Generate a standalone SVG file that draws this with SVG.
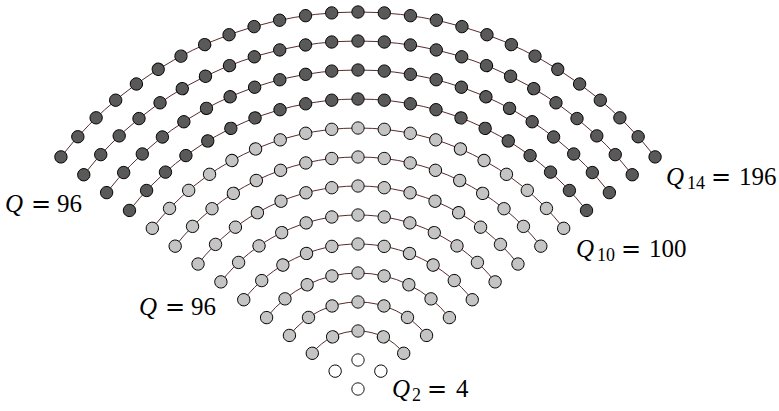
<svg xmlns="http://www.w3.org/2000/svg" xmlns:xlink="http://www.w3.org/1999/xlink" width="779" height="411" viewBox="0 0 779 411">
<style>
.arc{fill:none;stroke:#5b2b2b;stroke-width:1}
.lbl{font-family:"Liberation Serif","DejaVu Serif",serif;font-size:25px;fill:#000}
.q{font-style:italic}
.sub{font-size:18px}
.eq{font-family:"DejaVu Serif","Liberation Serif",serif;font-size:24px}
</style>
<defs>
<circle id="w" cx="358" cy="0" r="6.2" fill="#ffffff" stroke="#000" stroke-width="0.9"/>
<circle id="g" cx="358" cy="0" r="6.2" fill="#c4c4c4" stroke="#000" stroke-width="0.9"/>
<circle id="k" cx="358" cy="0" r="6.2" fill="#595959" stroke="#000" stroke-width="0.9"/>
</defs>
<rect width="779" height="411" fill="#fff"/>
<g id="connectors">
<path class="arc" d="M312.30 353.29 A58 58 0 0 1 403.70 353.29"/>
<path class="arc" d="M289.44 335.43 A87 87 0 0 1 426.56 335.43"/>
<path class="arc" d="M266.59 317.58 A116 116 0 0 1 449.41 317.58"/>
<path class="arc" d="M243.74 299.72 A145 145 0 0 1 472.26 299.72"/>
<path class="arc" d="M220.89 281.87 A174 174 0 0 1 495.11 281.87"/>
<path class="arc" d="M198.04 264.01 A203 203 0 0 1 517.96 264.01"/>
<path class="arc" d="M175.18 246.16 A232 232 0 0 1 540.82 246.16"/>
<path class="arc" d="M152.33 228.30 A261 261 0 0 1 563.67 228.30"/>
<path class="arc" d="M129.48 210.45 A290 290 0 0 1 586.52 210.45"/>
<path class="arc" d="M106.63 192.59 A319 319 0 0 1 609.37 192.59"/>
<path class="arc" d="M83.78 174.74 A348 348 0 0 1 632.22 174.74"/>
<path class="arc" d="M60.92 156.88 A377 377 0 0 1 655.08 156.88"/>
</g>
<g id="ring1">
<g id="n1-1"><use href="#w" y="389"/></g>
</g>
<g id="ring2">
<g id="n2-1" transform="rotate(-52 358 389)"><use href="#w" y="360"/></g>
<g id="n2-2"><use href="#w" y="360"/></g>
<g id="n2-3" transform="rotate(52 358 389)"><use href="#w" y="360"/></g>
</g>
<g id="ring3">
<g id="n3-1" transform="rotate(-52 358 389)"><use href="#g" y="331"/></g>
<g id="n3-2" transform="rotate(-26 358 389)"><use href="#g" y="331"/></g>
<g id="n3-3"><use href="#g" y="331"/></g>
<g id="n3-4" transform="rotate(26 358 389)"><use href="#g" y="331"/></g>
<g id="n3-5" transform="rotate(52 358 389)"><use href="#g" y="331"/></g>
</g>
<g id="ring4">
<g id="n4-1" transform="rotate(-52 358 389)"><use href="#g" y="302"/></g>
<g id="n4-2" transform="rotate(-34.667 358 389)"><use href="#g" y="302"/></g>
<g id="n4-3" transform="rotate(-17.333 358 389)"><use href="#g" y="302"/></g>
<g id="n4-4"><use href="#g" y="302"/></g>
<g id="n4-5" transform="rotate(17.333 358 389)"><use href="#g" y="302"/></g>
<g id="n4-6" transform="rotate(34.667 358 389)"><use href="#g" y="302"/></g>
<g id="n4-7" transform="rotate(52 358 389)"><use href="#g" y="302"/></g>
</g>
<g id="ring5">
<g id="n5-1" transform="rotate(-52 358 389)"><use href="#g" y="273"/></g>
<g id="n5-2" transform="rotate(-39 358 389)"><use href="#g" y="273"/></g>
<g id="n5-3" transform="rotate(-26 358 389)"><use href="#g" y="273"/></g>
<g id="n5-4" transform="rotate(-13 358 389)"><use href="#g" y="273"/></g>
<g id="n5-5"><use href="#g" y="273"/></g>
<g id="n5-6" transform="rotate(13 358 389)"><use href="#g" y="273"/></g>
<g id="n5-7" transform="rotate(26 358 389)"><use href="#g" y="273"/></g>
<g id="n5-8" transform="rotate(39 358 389)"><use href="#g" y="273"/></g>
<g id="n5-9" transform="rotate(52 358 389)"><use href="#g" y="273"/></g>
</g>
<g id="ring6">
<g id="n6-1" transform="rotate(-52 358 389)"><use href="#g" y="244"/></g>
<g id="n6-2" transform="rotate(-41.6 358 389)"><use href="#g" y="244"/></g>
<g id="n6-3" transform="rotate(-31.2 358 389)"><use href="#g" y="244"/></g>
<g id="n6-4" transform="rotate(-20.8 358 389)"><use href="#g" y="244"/></g>
<g id="n6-5" transform="rotate(-10.4 358 389)"><use href="#g" y="244"/></g>
<g id="n6-6"><use href="#g" y="244"/></g>
<g id="n6-7" transform="rotate(10.4 358 389)"><use href="#g" y="244"/></g>
<g id="n6-8" transform="rotate(20.8 358 389)"><use href="#g" y="244"/></g>
<g id="n6-9" transform="rotate(31.2 358 389)"><use href="#g" y="244"/></g>
<g id="n6-10" transform="rotate(41.6 358 389)"><use href="#g" y="244"/></g>
<g id="n6-11" transform="rotate(52 358 389)"><use href="#g" y="244"/></g>
</g>
<g id="ring7">
<g id="n7-1" transform="rotate(-52 358 389)"><use href="#g" y="215"/></g>
<g id="n7-2" transform="rotate(-43.333 358 389)"><use href="#g" y="215"/></g>
<g id="n7-3" transform="rotate(-34.667 358 389)"><use href="#g" y="215"/></g>
<g id="n7-4" transform="rotate(-26 358 389)"><use href="#g" y="215"/></g>
<g id="n7-5" transform="rotate(-17.333 358 389)"><use href="#g" y="215"/></g>
<g id="n7-6" transform="rotate(-8.667 358 389)"><use href="#g" y="215"/></g>
<g id="n7-7"><use href="#g" y="215"/></g>
<g id="n7-8" transform="rotate(8.667 358 389)"><use href="#g" y="215"/></g>
<g id="n7-9" transform="rotate(17.333 358 389)"><use href="#g" y="215"/></g>
<g id="n7-10" transform="rotate(26 358 389)"><use href="#g" y="215"/></g>
<g id="n7-11" transform="rotate(34.667 358 389)"><use href="#g" y="215"/></g>
<g id="n7-12" transform="rotate(43.333 358 389)"><use href="#g" y="215"/></g>
<g id="n7-13" transform="rotate(52 358 389)"><use href="#g" y="215"/></g>
</g>
<g id="ring8">
<g id="n8-1" transform="rotate(-52 358 389)"><use href="#g" y="186"/></g>
<g id="n8-2" transform="rotate(-44.571 358 389)"><use href="#g" y="186"/></g>
<g id="n8-3" transform="rotate(-37.143 358 389)"><use href="#g" y="186"/></g>
<g id="n8-4" transform="rotate(-29.714 358 389)"><use href="#g" y="186"/></g>
<g id="n8-5" transform="rotate(-22.286 358 389)"><use href="#g" y="186"/></g>
<g id="n8-6" transform="rotate(-14.857 358 389)"><use href="#g" y="186"/></g>
<g id="n8-7" transform="rotate(-7.429 358 389)"><use href="#g" y="186"/></g>
<g id="n8-8"><use href="#g" y="186"/></g>
<g id="n8-9" transform="rotate(7.429 358 389)"><use href="#g" y="186"/></g>
<g id="n8-10" transform="rotate(14.857 358 389)"><use href="#g" y="186"/></g>
<g id="n8-11" transform="rotate(22.286 358 389)"><use href="#g" y="186"/></g>
<g id="n8-12" transform="rotate(29.714 358 389)"><use href="#g" y="186"/></g>
<g id="n8-13" transform="rotate(37.143 358 389)"><use href="#g" y="186"/></g>
<g id="n8-14" transform="rotate(44.571 358 389)"><use href="#g" y="186"/></g>
<g id="n8-15" transform="rotate(52 358 389)"><use href="#g" y="186"/></g>
</g>
<g id="ring9">
<g id="n9-1" transform="rotate(-52 358 389)"><use href="#g" y="157"/></g>
<g id="n9-2" transform="rotate(-45.5 358 389)"><use href="#g" y="157"/></g>
<g id="n9-3" transform="rotate(-39 358 389)"><use href="#g" y="157"/></g>
<g id="n9-4" transform="rotate(-32.5 358 389)"><use href="#g" y="157"/></g>
<g id="n9-5" transform="rotate(-26 358 389)"><use href="#g" y="157"/></g>
<g id="n9-6" transform="rotate(-19.5 358 389)"><use href="#g" y="157"/></g>
<g id="n9-7" transform="rotate(-13 358 389)"><use href="#g" y="157"/></g>
<g id="n9-8" transform="rotate(-6.5 358 389)"><use href="#g" y="157"/></g>
<g id="n9-9"><use href="#g" y="157"/></g>
<g id="n9-10" transform="rotate(6.5 358 389)"><use href="#g" y="157"/></g>
<g id="n9-11" transform="rotate(13 358 389)"><use href="#g" y="157"/></g>
<g id="n9-12" transform="rotate(19.5 358 389)"><use href="#g" y="157"/></g>
<g id="n9-13" transform="rotate(26 358 389)"><use href="#g" y="157"/></g>
<g id="n9-14" transform="rotate(32.5 358 389)"><use href="#g" y="157"/></g>
<g id="n9-15" transform="rotate(39 358 389)"><use href="#g" y="157"/></g>
<g id="n9-16" transform="rotate(45.5 358 389)"><use href="#g" y="157"/></g>
<g id="n9-17" transform="rotate(52 358 389)"><use href="#g" y="157"/></g>
</g>
<g id="ring10">
<g id="n10-1" transform="rotate(-52 358 389)"><use href="#g" y="128"/></g>
<g id="n10-2" transform="rotate(-46.222 358 389)"><use href="#g" y="128"/></g>
<g id="n10-3" transform="rotate(-40.444 358 389)"><use href="#g" y="128"/></g>
<g id="n10-4" transform="rotate(-34.667 358 389)"><use href="#g" y="128"/></g>
<g id="n10-5" transform="rotate(-28.889 358 389)"><use href="#g" y="128"/></g>
<g id="n10-6" transform="rotate(-23.111 358 389)"><use href="#g" y="128"/></g>
<g id="n10-7" transform="rotate(-17.333 358 389)"><use href="#g" y="128"/></g>
<g id="n10-8" transform="rotate(-11.556 358 389)"><use href="#g" y="128"/></g>
<g id="n10-9" transform="rotate(-5.778 358 389)"><use href="#g" y="128"/></g>
<g id="n10-10"><use href="#g" y="128"/></g>
<g id="n10-11" transform="rotate(5.778 358 389)"><use href="#g" y="128"/></g>
<g id="n10-12" transform="rotate(11.556 358 389)"><use href="#g" y="128"/></g>
<g id="n10-13" transform="rotate(17.333 358 389)"><use href="#g" y="128"/></g>
<g id="n10-14" transform="rotate(23.111 358 389)"><use href="#g" y="128"/></g>
<g id="n10-15" transform="rotate(28.889 358 389)"><use href="#g" y="128"/></g>
<g id="n10-16" transform="rotate(34.667 358 389)"><use href="#g" y="128"/></g>
<g id="n10-17" transform="rotate(40.444 358 389)"><use href="#g" y="128"/></g>
<g id="n10-18" transform="rotate(46.222 358 389)"><use href="#g" y="128"/></g>
<g id="n10-19" transform="rotate(52 358 389)"><use href="#g" y="128"/></g>
</g>
<g id="ring11">
<g id="n11-1" transform="rotate(-52 358 389)"><use href="#k" y="99"/></g>
<g id="n11-2" transform="rotate(-46.8 358 389)"><use href="#k" y="99"/></g>
<g id="n11-3" transform="rotate(-41.6 358 389)"><use href="#k" y="99"/></g>
<g id="n11-4" transform="rotate(-36.4 358 389)"><use href="#k" y="99"/></g>
<g id="n11-5" transform="rotate(-31.2 358 389)"><use href="#k" y="99"/></g>
<g id="n11-6" transform="rotate(-26 358 389)"><use href="#k" y="99"/></g>
<g id="n11-7" transform="rotate(-20.8 358 389)"><use href="#k" y="99"/></g>
<g id="n11-8" transform="rotate(-15.6 358 389)"><use href="#k" y="99"/></g>
<g id="n11-9" transform="rotate(-10.4 358 389)"><use href="#k" y="99"/></g>
<g id="n11-10" transform="rotate(-5.2 358 389)"><use href="#k" y="99"/></g>
<g id="n11-11"><use href="#k" y="99"/></g>
<g id="n11-12" transform="rotate(5.2 358 389)"><use href="#k" y="99"/></g>
<g id="n11-13" transform="rotate(10.4 358 389)"><use href="#k" y="99"/></g>
<g id="n11-14" transform="rotate(15.6 358 389)"><use href="#k" y="99"/></g>
<g id="n11-15" transform="rotate(20.8 358 389)"><use href="#k" y="99"/></g>
<g id="n11-16" transform="rotate(26 358 389)"><use href="#k" y="99"/></g>
<g id="n11-17" transform="rotate(31.2 358 389)"><use href="#k" y="99"/></g>
<g id="n11-18" transform="rotate(36.4 358 389)"><use href="#k" y="99"/></g>
<g id="n11-19" transform="rotate(41.6 358 389)"><use href="#k" y="99"/></g>
<g id="n11-20" transform="rotate(46.8 358 389)"><use href="#k" y="99"/></g>
<g id="n11-21" transform="rotate(52 358 389)"><use href="#k" y="99"/></g>
</g>
<g id="ring12">
<g id="n12-1" transform="rotate(-52 358 389)"><use href="#k" y="70"/></g>
<g id="n12-2" transform="rotate(-47.273 358 389)"><use href="#k" y="70"/></g>
<g id="n12-3" transform="rotate(-42.545 358 389)"><use href="#k" y="70"/></g>
<g id="n12-4" transform="rotate(-37.818 358 389)"><use href="#k" y="70"/></g>
<g id="n12-5" transform="rotate(-33.091 358 389)"><use href="#k" y="70"/></g>
<g id="n12-6" transform="rotate(-28.364 358 389)"><use href="#k" y="70"/></g>
<g id="n12-7" transform="rotate(-23.636 358 389)"><use href="#k" y="70"/></g>
<g id="n12-8" transform="rotate(-18.909 358 389)"><use href="#k" y="70"/></g>
<g id="n12-9" transform="rotate(-14.182 358 389)"><use href="#k" y="70"/></g>
<g id="n12-10" transform="rotate(-9.455 358 389)"><use href="#k" y="70"/></g>
<g id="n12-11" transform="rotate(-4.727 358 389)"><use href="#k" y="70"/></g>
<g id="n12-12"><use href="#k" y="70"/></g>
<g id="n12-13" transform="rotate(4.727 358 389)"><use href="#k" y="70"/></g>
<g id="n12-14" transform="rotate(9.455 358 389)"><use href="#k" y="70"/></g>
<g id="n12-15" transform="rotate(14.182 358 389)"><use href="#k" y="70"/></g>
<g id="n12-16" transform="rotate(18.909 358 389)"><use href="#k" y="70"/></g>
<g id="n12-17" transform="rotate(23.636 358 389)"><use href="#k" y="70"/></g>
<g id="n12-18" transform="rotate(28.364 358 389)"><use href="#k" y="70"/></g>
<g id="n12-19" transform="rotate(33.091 358 389)"><use href="#k" y="70"/></g>
<g id="n12-20" transform="rotate(37.818 358 389)"><use href="#k" y="70"/></g>
<g id="n12-21" transform="rotate(42.545 358 389)"><use href="#k" y="70"/></g>
<g id="n12-22" transform="rotate(47.273 358 389)"><use href="#k" y="70"/></g>
<g id="n12-23" transform="rotate(52 358 389)"><use href="#k" y="70"/></g>
</g>
<g id="ring13">
<g id="n13-1" transform="rotate(-52 358 389)"><use href="#k" y="41"/></g>
<g id="n13-2" transform="rotate(-47.667 358 389)"><use href="#k" y="41"/></g>
<g id="n13-3" transform="rotate(-43.333 358 389)"><use href="#k" y="41"/></g>
<g id="n13-4" transform="rotate(-39 358 389)"><use href="#k" y="41"/></g>
<g id="n13-5" transform="rotate(-34.667 358 389)"><use href="#k" y="41"/></g>
<g id="n13-6" transform="rotate(-30.333 358 389)"><use href="#k" y="41"/></g>
<g id="n13-7" transform="rotate(-26 358 389)"><use href="#k" y="41"/></g>
<g id="n13-8" transform="rotate(-21.667 358 389)"><use href="#k" y="41"/></g>
<g id="n13-9" transform="rotate(-17.333 358 389)"><use href="#k" y="41"/></g>
<g id="n13-10" transform="rotate(-13 358 389)"><use href="#k" y="41"/></g>
<g id="n13-11" transform="rotate(-8.667 358 389)"><use href="#k" y="41"/></g>
<g id="n13-12" transform="rotate(-4.333 358 389)"><use href="#k" y="41"/></g>
<g id="n13-13"><use href="#k" y="41"/></g>
<g id="n13-14" transform="rotate(4.333 358 389)"><use href="#k" y="41"/></g>
<g id="n13-15" transform="rotate(8.667 358 389)"><use href="#k" y="41"/></g>
<g id="n13-16" transform="rotate(13 358 389)"><use href="#k" y="41"/></g>
<g id="n13-17" transform="rotate(17.333 358 389)"><use href="#k" y="41"/></g>
<g id="n13-18" transform="rotate(21.667 358 389)"><use href="#k" y="41"/></g>
<g id="n13-19" transform="rotate(26 358 389)"><use href="#k" y="41"/></g>
<g id="n13-20" transform="rotate(30.333 358 389)"><use href="#k" y="41"/></g>
<g id="n13-21" transform="rotate(34.667 358 389)"><use href="#k" y="41"/></g>
<g id="n13-22" transform="rotate(39 358 389)"><use href="#k" y="41"/></g>
<g id="n13-23" transform="rotate(43.333 358 389)"><use href="#k" y="41"/></g>
<g id="n13-24" transform="rotate(47.667 358 389)"><use href="#k" y="41"/></g>
<g id="n13-25" transform="rotate(52 358 389)"><use href="#k" y="41"/></g>
</g>
<g id="ring14">
<g id="n14-1" transform="rotate(-52 358 389)"><use href="#k" y="12"/></g>
<g id="n14-2" transform="rotate(-48 358 389)"><use href="#k" y="12"/></g>
<g id="n14-3" transform="rotate(-44 358 389)"><use href="#k" y="12"/></g>
<g id="n14-4" transform="rotate(-40 358 389)"><use href="#k" y="12"/></g>
<g id="n14-5" transform="rotate(-36 358 389)"><use href="#k" y="12"/></g>
<g id="n14-6" transform="rotate(-32 358 389)"><use href="#k" y="12"/></g>
<g id="n14-7" transform="rotate(-28 358 389)"><use href="#k" y="12"/></g>
<g id="n14-8" transform="rotate(-24 358 389)"><use href="#k" y="12"/></g>
<g id="n14-9" transform="rotate(-20 358 389)"><use href="#k" y="12"/></g>
<g id="n14-10" transform="rotate(-16 358 389)"><use href="#k" y="12"/></g>
<g id="n14-11" transform="rotate(-12 358 389)"><use href="#k" y="12"/></g>
<g id="n14-12" transform="rotate(-8 358 389)"><use href="#k" y="12"/></g>
<g id="n14-13" transform="rotate(-4 358 389)"><use href="#k" y="12"/></g>
<g id="n14-14"><use href="#k" y="12"/></g>
<g id="n14-15" transform="rotate(4 358 389)"><use href="#k" y="12"/></g>
<g id="n14-16" transform="rotate(8 358 389)"><use href="#k" y="12"/></g>
<g id="n14-17" transform="rotate(12 358 389)"><use href="#k" y="12"/></g>
<g id="n14-18" transform="rotate(16 358 389)"><use href="#k" y="12"/></g>
<g id="n14-19" transform="rotate(20 358 389)"><use href="#k" y="12"/></g>
<g id="n14-20" transform="rotate(24 358 389)"><use href="#k" y="12"/></g>
<g id="n14-21" transform="rotate(28 358 389)"><use href="#k" y="12"/></g>
<g id="n14-22" transform="rotate(32 358 389)"><use href="#k" y="12"/></g>
<g id="n14-23" transform="rotate(36 358 389)"><use href="#k" y="12"/></g>
<g id="n14-24" transform="rotate(40 358 389)"><use href="#k" y="12"/></g>
<g id="n14-25" transform="rotate(44 358 389)"><use href="#k" y="12"/></g>
<g id="n14-26" transform="rotate(48 358 389)"><use href="#k" y="12"/></g>
<g id="n14-27" transform="rotate(52 358 389)"><use href="#k" y="12"/></g>
</g>
<g id="labels" class="lbl">
<text y="212"><tspan class="q" x="5">Q</tspan><tspan class="eq" x="31">=</tspan><tspan x="57">96</tspan></text>
<text y="315"><tspan class="q" x="139">Q</tspan><tspan class="eq" x="165">=</tspan><tspan x="191">96</tspan></text>
<text y="185"><tspan class="q" x="666">Q</tspan><tspan class="sub" x="687" y="189">14</tspan><tspan class="eq" x="711" y="185">=</tspan><tspan x="739">196</tspan></text>
<text y="257"><tspan class="q" x="576">Q</tspan><tspan class="sub" x="597" y="261">10</tspan><tspan class="eq" x="621" y="257">=</tspan><tspan x="649">100</tspan></text>
<text y="397"><tspan class="q" x="392">Q</tspan><tspan class="sub" x="412" y="401">2</tspan><tspan class="eq" x="427" y="397">=</tspan><tspan x="456">4</tspan></text>
</g>
</svg>
